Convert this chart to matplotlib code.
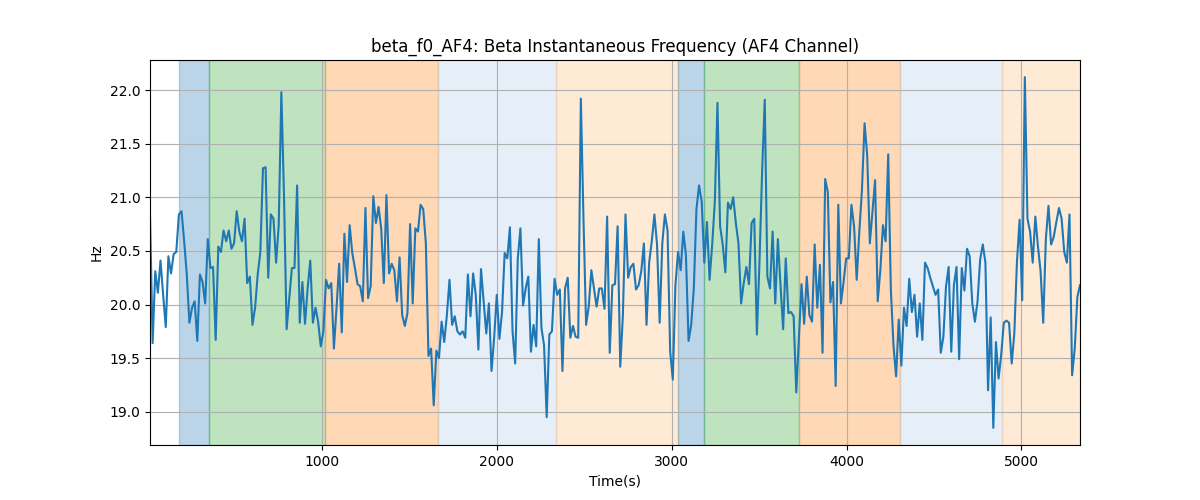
import numpy as np
import matplotlib
matplotlib.use("Agg")
import matplotlib.pyplot as plt

t_start, t_end = 17, 5335

values = [
    # segment 1
    20.84, 19.64, 20.31, 20.11, 20.41, 20.09, 19.79, 20.45, 20.29, 20.47,
    20.49, 20.84, 20.87, 20.59, 20.28, 19.83, 19.97, 20.03, 19.66, 20.28,
    20.21, 20.01, 20.61, 20.34, 20.35, 19.67, 20.54, 20.49, 20.69, 20.59,
    20.69, 20.52, 20.57, 20.87, 20.68, 20.59, 20.80, 20.20, 20.26, 19.81,
    19.97, 20.28, 20.49, 21.27, 21.28, 20.25, 20.84, 20.80, 20.39, 20.74,
    21.98, 21.02, 19.77, 20.06, 20.34, 20.34, 21.11,
    # segment 2
    19.83, 20.21, 19.82, 20.15, 20.41, 19.83, 19.97, 19.84, 19.61, 19.75,
    20.23, 20.15, 20.20, 19.59, 19.97, 20.38, 19.74, 20.66, 20.21, 20.74,
    20.48, 20.34, 20.19, 20.17, 20.03, 20.90, 20.06, 20.17, 21.01, 20.76,
    20.91, 20.71, 20.20, 21.02, 20.29, 20.38, 20.32, 20.03, 20.44, 19.90,
    19.80, 19.92, 20.75, 20.01, 20.71, 20.68, 20.93, 20.89, 20.57, 19.52,
    19.59, 19.06, 19.57, 19.50, 19.84, 19.65, 19.90, 20.23, 19.81,
    # segment 3
    19.89, 19.75, 19.72, 19.75, 19.69, 20.28, 19.89, 20.29, 20.09, 19.58,
    20.33, 20.03, 19.73, 20.01, 19.38, 19.69, 20.09, 19.68, 19.93, 20.48,
    20.43, 20.72, 19.75, 19.45, 20.43, 20.71, 19.99, 20.15, 20.26, 19.56,
    19.81, 19.61, 20.61, 19.78, 19.62, 18.95, 19.72, 19.75, 20.24, 20.09,
    20.14, 19.38, 20.15, 20.25, 19.69, 19.80, 19.70, 19.69, 21.92, 20.80,
    19.81, 19.98, 20.32, 20.15, 19.98, 20.15, 20.15, 19.96, 20.82,
    # segment 4
    19.55, 20.18, 20.19, 20.73, 19.42, 19.90, 20.84, 20.25, 20.35, 20.38,
    20.14, 20.18, 20.31, 20.57, 19.81, 20.39, 20.59, 20.84, 20.56, 19.83,
    20.57, 20.84, 20.69, 19.56, 19.30, 20.18, 20.49, 20.32, 20.68, 20.46,
    19.66, 19.81, 20.15, 20.89, 21.11, 20.96, 20.39, 20.77, 20.23, 20.56,
    20.96, 21.88, 20.73, 20.56, 20.30, 20.95, 20.89, 21.00, 20.76, 20.57,
    20.01, 20.20, 20.35, 20.19, 20.76, 20.80, 19.72, 20.40, 21.24,
    # segment 5
    21.91, 20.26, 20.15, 20.68, 20.01, 20.61, 20.18, 19.77, 20.43, 19.92,
    19.93, 19.89, 19.18, 19.69, 20.19, 19.82, 20.26, 19.90, 19.84, 20.56,
    19.97, 20.37, 19.55, 21.17, 21.05, 20.02, 20.21, 19.24, 20.93, 20.01,
    20.21, 20.43, 20.43, 20.93, 20.73, 20.23, 20.68, 21.07, 21.69, 21.39,
    20.57, 20.87, 21.16, 20.03, 20.32, 20.74, 20.59, 21.40, 20.14, 19.62,
    19.33, 19.86, 19.43, 19.97, 19.80, 20.24, 19.93, 20.09, 19.70,
    # segment 6
    20.01, 19.67, 20.39, 20.34, 20.25, 20.17, 20.09, 20.14, 19.55, 19.70,
    20.17, 20.35, 19.56, 20.18, 20.35, 19.49, 20.34, 20.13, 20.52, 20.45,
    20.01, 19.84, 20.03, 20.42, 20.56, 20.39, 19.20, 19.88, 18.85, 19.65,
    19.31, 19.53, 19.83, 19.85, 19.83, 19.45, 19.73, 20.40, 20.79, 20.04,
    22.12, 20.80, 20.68, 20.39, 20.82, 20.54, 20.31, 19.83, 20.61, 20.92,
    20.56, 20.63, 20.77, 20.90, 20.80, 20.49, 20.39, 20.84, 19.34, 19.59,
    20.07, 20.18,
]

span_starts = [183, 355, 1019, 1662, 2337, 3036, 3186, 3728, 4308, 4888]
span_ends = [355, 1019, 1662, 2337, 3036, 3186, 3728, 4308, 4888, 5335]
span_colors = ['#1f77b4', '#2ca02c', '#ff7f0e', '#aec7e8', '#ffbb78',
               '#1f77b4', '#2ca02c', '#ff7f0e', '#aec7e8', '#ffbb78']

times = np.linspace(t_start, t_end, len(values))

fig, ax = plt.subplots(figsize=(12, 5), dpi=100)
for s, e, c in zip(span_starts, span_ends, span_colors):
    ax.axvspan(s, e, color=c, alpha=0.3)
ax.plot(times, values, color='#1f77b4', linewidth=1.5)
ax.set_xlim(t_start, t_end)
ax.set_ylim(18.69, 22.28)
ax.grid(True)
ax.set_title("beta_f0_AF4: Beta Instantaneous Frequency (AF4 Channel)")
ax.set_xlabel("Time(s)")
ax.set_ylabel("Hz")
fig.savefig("out.png", dpi=100)
